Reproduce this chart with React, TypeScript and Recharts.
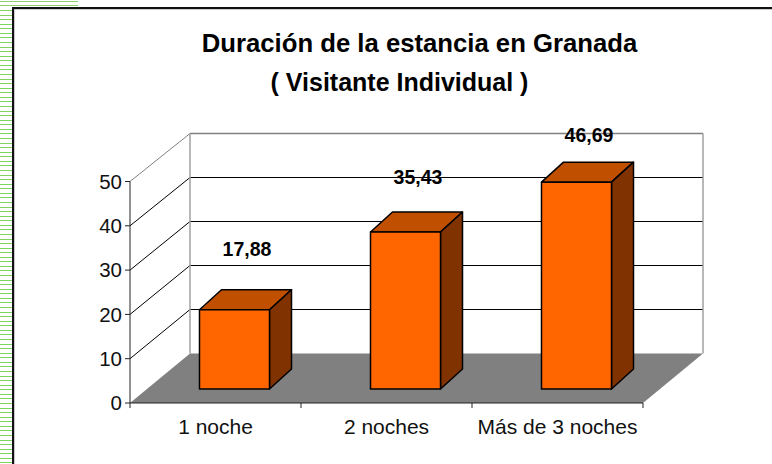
import React from 'react';
import { BarChart, Bar, XAxis, YAxis, LabelList } from 'recharts';

const categories = ['1 noche', '2 noches', 'Más de 3 noches'];
const values = [17.88, 35.43, 46.69];
const yTicks = [0, 10, 20, 30, 40, 50];
const titleLines = ['Duración de la estancia en Granada', '( Visitante Individual )'];

const rows = categories.map((name, i) => ({ name, value: values[i] }));

// plot box of the front plane
const WIDTH = 772;
const HEIGHT = 464;
const LEFT = 130;
const RIGHT = 643;
const TOP = 181.5;
const BOTTOM = 403;
const YAXIS_W = 40;
const XAXIS_H = 38;

// 3d offsets: wall depth, bar depth, where the bar stands on the floor
const WALL_DX = 60;
const WALL_BOTTOM = 353.5;
const WALL_TOP = 133.5;
const BAR_DX = 22;
const BAR_DY = 20;
const BAR_SHIFT_X = 18.5;
const BAR_SHIFT_Y = 14;
const LABEL_LIFT = [62, 56, 48];

const yOf = (v: number) => BOTTOM - (v / 50) * (BOTTOM - TOP);
const wallY = (v: number) => WALL_BOTTOM - (v / 50) * (WALL_BOTTOM - WALL_TOP);

const Backdrop = () => {
    const bandW = (RIGHT - LEFT) / categories.length;
    return (
        <g>
            <polygon
                points={`${LEFT},${BOTTOM} ${RIGHT},${BOTTOM} ${RIGHT + WALL_DX},${WALL_BOTTOM} ${LEFT + WALL_DX},${WALL_BOTTOM}`}
                fill="#808080"
            />
            {yTicks.filter((t) => t > 0).map((t) => (
                <g key={t}>
                    <line x1={LEFT} y1={yOf(t)} x2={LEFT + WALL_DX} y2={wallY(t)} stroke={t === 50 ? '#808080' : '#000'} />
                    <line x1={LEFT + WALL_DX} y1={wallY(t)} x2={RIGHT + WALL_DX} y2={wallY(t)} stroke={t === 50 ? '#808080' : '#000'} strokeWidth={t === 50 ? 1.5 : 1} />
                </g>
            ))}
            <line x1={LEFT + WALL_DX} y1={WALL_TOP} x2={LEFT + WALL_DX} y2={WALL_BOTTOM} stroke="#a0a0a0" strokeWidth={1.5} />
            <line x1={RIGHT + WALL_DX} y1={WALL_TOP} x2={RIGHT + WALL_DX} y2={WALL_BOTTOM} stroke="#a0a0a0" strokeWidth={1.5} />
            {/* category boundary ticks */}
            {categories.concat('').map((_, i) => (
                <line key={i} x1={LEFT + i * bandW} y1={BOTTOM} x2={LEFT + i * bandW} y2={BOTTOM + 5} stroke="#222" />
            ))}
            <g fontFamily="Liberation Sans" fontWeight="bold" fill="#000">
                <text x={419.5} y={52} textAnchor="middle" fontSize={25.7}>{titleLines[0]}</text>
                <text x={399.5} y={91} textAnchor="middle" fontSize={25}>{titleLines[1]}</text>
            </g>
        </g>
    );
};

const Box = (props: any) => {
    const { x, y, width, height } = props;
    const l = x + BAR_SHIFT_X;
    const r = l + width;
    const t = y - BAR_SHIFT_Y;
    const b = t + height;
    return (
        <g stroke="#000" strokeWidth={1.5} strokeLinejoin="round">
            <polygon points={`${l},${t} ${r},${t} ${r + BAR_DX},${t - BAR_DY} ${l + BAR_DX},${t - BAR_DY}`} fill="#c05000" />
            <polygon points={`${r},${t} ${r + BAR_DX},${t - BAR_DY} ${r + BAR_DX},${b - BAR_DY} ${r},${b}`} fill="#803300" />
            <rect x={l} y={t} width={width} height={height} fill="#ff6600" />
        </g>
    );
};

const BarValue = (props: any) => {
    const { x, y, width, value, index } = props;
    return (
        <text
            x={x + width / 2 + 31}
            y={y - BAR_SHIFT_Y - LABEL_LIFT[index] + 8}
            textAnchor="middle"
            fontFamily="Liberation Sans"
            fontWeight="bold"
            fontSize={19.5}
            fill="#000"
        >
            {String(value).replace('.', ',')}
        </text>
    );
};

export default function App() {
    return (
        <div style={{ position: 'absolute', left: 0, top: 0, width: WIDTH, height: HEIGHT, background: '#fff', overflow: 'hidden' }}>
            {/* page scraps around the chart frame */}
            <div style={{ position: 'absolute', left: 0, top: 0, width: 78, height: 7, background: 'repeating-linear-gradient(to bottom, #fff 0, #fff 1px, #8ccf70 1px, #8ccf70 2px, #fff 2px, #fff 4px)' }} />
            <div style={{ position: 'absolute', left: 0, top: 10, width: 12, height: 454, background: 'repeating-linear-gradient(to bottom, #7fd45f 0, #7fd45f 1px, #fff 1px, #fff 4.57px)' }} />
            <div style={{ position: 'absolute', left: 12, top: 7, width: 760, height: 457, borderLeft: '2px solid #111', borderTop: '2px solid #111', boxShadow: 'inset 1px 1px 0 #ccc', boxSizing: 'border-box' }} />
            <div style={{ position: 'absolute', left: 0, top: 0 }}>
                <BarChart
                    width={WIDTH}
                    height={HEIGHT}
                    data={rows}
                    barSize={70}
                    margin={{ top: TOP, right: WIDTH - RIGHT, bottom: HEIGHT - BOTTOM - XAXIS_H, left: LEFT - YAXIS_W }}
                >
                    <Backdrop />
                    <XAxis
                        dataKey="name"
                        height={XAXIS_H}
                        tickLine={false}
                        stroke="#222"
                        tick={{ fill: '#111', fontSize: 21, fontFamily: 'Liberation Sans' }}
                        tickMargin={10}
                        interval={0}
                    />
                    <YAxis
                        width={YAXIS_W}
                        domain={[0, 50]}
                        ticks={yTicks}
                        stroke="#222"
                        tickSize={5}
                        tickMargin={3}
                        tick={{ fill: '#111', fontSize: 20.5, fontFamily: 'Liberation Sans' }}
                    />
                    <Bar dataKey="value" shape={Box} isAnimationActive={false}>
                        <LabelList dataKey="value" content={BarValue} />
                    </Bar>
                </BarChart>
            </div>
        </div>
    );
}
